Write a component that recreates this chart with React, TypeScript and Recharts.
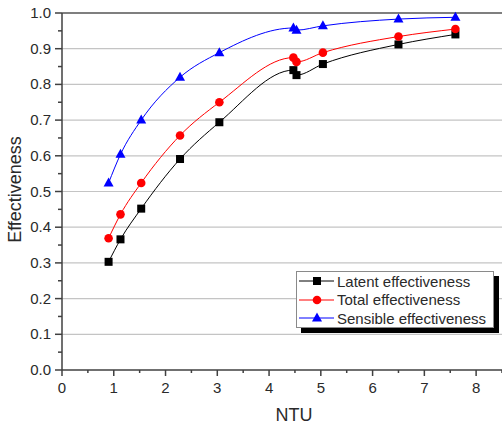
import React from "react";
import { LineChart, Line, XAxis, YAxis, CartesianGrid, Legend, ReferenceLine } from "recharts";

const ntu = [0.9, 1.13, 1.53, 2.28, 3.04, 4.47, 4.53, 5.04, 6.5, 7.6];
const latent = [0.303, 0.366, 0.452, 0.591, 0.694, 0.84, 0.826, 0.857, 0.912, 0.94];
const total = [0.369, 0.436, 0.524, 0.657, 0.75, 0.875, 0.863, 0.889, 0.934, 0.955];
const sensible = [0.524, 0.604, 0.7, 0.82, 0.889, 0.958, 0.952, 0.964, 0.983, 0.988];

const xTicks = [0, 0.5, 1, 1.5, 2, 2.5, 3, 3.5, 4, 4.5, 5, 5.5, 6, 6.5, 7, 7.5, 8, 8.5];
const yTicks = [0, 0.05, 0.1, 0.15, 0.2, 0.25, 0.3, 0.35, 0.4, 0.45, 0.5, 0.55, 0.6, 0.65, 0.7, 0.75, 0.8, 0.85, 0.9, 0.95, 1.0];
const gridValues = [0.1, 0.2, 0.3, 0.4, 0.5, 0.6, 0.7, 0.8, 0.9];

const seriesNames = ["Latent effectiveness", "Total effectiveness", "Sensible effectiveness"];
const seriesColors = ["#000000", "#ff0000", "#0000ff"];
const xTitle = "NTU";
const yTitle = "Effectiveness";

const data = ntu.map((x, i) => ({ x, latent: latent[i], total: total[i], sensible: sensible[i] }));

const FONT = "'Liberation Sans', Arial, sans-serif";
const TXT = "#2a2a2a";

const XTick = (props: any) => {
  const { x, y, payload } = props;
  const v = payload.value;
  const major = Number.isInteger(v);
  return (
    <g>
      <line x1={x} y1={y} x2={x} y2={y + (major ? 6 : 3)} stroke="#404040" strokeWidth={1.5} />
      {major && (
        <text x={x} y={y + 23} textAnchor="middle" fontSize={15} fontFamily={FONT} fill={TXT}>
          {v}
        </text>
      )}
    </g>
  );
};

const YTick = (props: any) => {
  const { x, y, payload } = props;
  const v = payload.value;
  const major = Math.abs(Math.round(v * 10) - v * 10) < 1e-6;
  return (
    <g>
      <line x1={x - (major ? 7 : 4)} y1={y} x2={x} y2={y} stroke="#404040" strokeWidth={1.5} />
      {major && (
        <text x={x - 11} y={y + 5} textAnchor="end" fontSize={15} fontFamily={FONT} fill={TXT}>
          {v.toFixed(1)}
        </text>
      )}
    </g>
  );
};

const XTitle = (props: any) => {
  const { viewBox } = props;
  const cx = viewBox.x + viewBox.width / 2 + 12;
  return (
    <text x={cx} y={421} textAnchor="middle" fontSize={18} fontFamily={FONT} fill={TXT}>
      {xTitle}
    </text>
  );
};

const YTitle = (props: any) => {
  const { viewBox } = props;
  const cy = viewBox.y + viewBox.height / 2 - 2;
  const x = 21;
  return (
    <text x={x} y={cy} transform={`rotate(-90 ${x} ${cy})`} textAnchor="middle" fontSize={18} fontFamily={FONT} fill={TXT}>
      {yTitle}
    </text>
  );
};

const Square = (props: any) => {
  const { cx, cy, index } = props;
  return <rect key={"s" + index} x={cx - 4} y={cy - 4} width={8} height={8} fill="#000000" />;
};
const Dot = (props: any) => {
  const { cx, cy, index } = props;
  return <circle key={"c" + index} cx={cx} cy={cy} r={4.3} fill="#ff0000" />;
};
const Tri = (props: any) => {
  const { cx, cy, index } = props;
  return (
    <polygon key={"t" + index} points={`${cx},${cy - 5.5} ${cx + 5},${cy + 3.5} ${cx - 5},${cy + 3.5}`} fill="#0000ff" />
  );
};

const markerFor = (i: number, cx: number, cy: number) => {
  if (i === 0) return <rect x={cx - 4} y={cy - 4} width={8} height={8} fill="#000" />;
  if (i === 1) return <circle cx={cx} cy={cy} r={4.3} fill="#ff0000" />;
  return <polygon points={`${cx},${cy - 5.5} ${cx + 5},${cy + 3.5} ${cx - 5},${cy + 3.5}`} fill="#0000ff" />;
};

const LegendBox = () => (
  <div
    style={{
      width: 198,
      height: 57,
      border: "1px solid #8a8a8a",
      background: "#fff",
      boxShadow: "5px 5px 0 #000",
      boxSizing: "border-box",
      paddingTop: 0,
      fontFamily: FONT,
      fontSize: 15,
      color: TXT,
    }}
  >
    {seriesNames.map((n, i) => (
      <div key={n} style={{ display: "flex", alignItems: "center", height: 18.5, whiteSpace: "nowrap" }}>
        <svg width={38} height={14} style={{ marginLeft: 1, marginRight: 1 }}>
          <line x1={1} y1={7} x2={36} y2={7} stroke={seriesColors[i]} strokeWidth={1} />
          {markerFor(i, 19, 7)}
        </svg>
        <span>{n}</span>
      </div>
    ))}
  </div>
);

export default function App() {
  return (
    <div style={{ position: "absolute", left: 0, top: 0, width: 502, height: 426, background: "#fff" }}>
      <LineChart width={502} height={426} data={data} margin={{ top: 13, right: 0, left: 0, bottom: 0 }}>
        <CartesianGrid horizontal={true} vertical={false} horizontalValues={gridValues} stroke="#c4c4c4" strokeWidth={1.2} />
        <ReferenceLine y={1} stroke="#555555" strokeWidth={1.5} />
        <XAxis
          type="number"
          dataKey="x"
          domain={[0, 8.5]}
          ticks={xTicks}
          interval={0}
          height={56}
          tickLine={false}
          tickSize={0}
          tickMargin={0}
          tick={<XTick />}
          stroke="#404040"
          strokeWidth={1.5}
          allowDataOverflow
          label={<XTitle />}
        />
        <YAxis
          type="number"
          domain={[0, 1]}
          ticks={yTicks}
          interval={0}
          width={62}
          tickLine={false}
          tickSize={0}
          tickMargin={0}
          tick={<YTick />}
          stroke="#404040"
          strokeWidth={1.5}
          label={<YTitle />}
        />
        <Legend
          layout="vertical"
          align="center"
          verticalAlign="middle"
          wrapperStyle={{ left: 296, top: 271, width: 204, height: 64 }}
          content={<LegendBox />}
        />
        <Line type="monotone" dataKey="latent" name={seriesNames[0]} stroke="#000000" strokeWidth={1} dot={<Square />} activeDot={false} isAnimationActive={false} />
        <Line type="monotone" dataKey="total" name={seriesNames[1]} stroke="#ff0000" strokeWidth={1} dot={<Dot />} activeDot={false} isAnimationActive={false} />
        <Line type="monotone" dataKey="sensible" name={seriesNames[2]} stroke="#0000ff" strokeWidth={1} dot={<Tri />} activeDot={false} isAnimationActive={false} />
      </LineChart>
    </div>
  );
}
